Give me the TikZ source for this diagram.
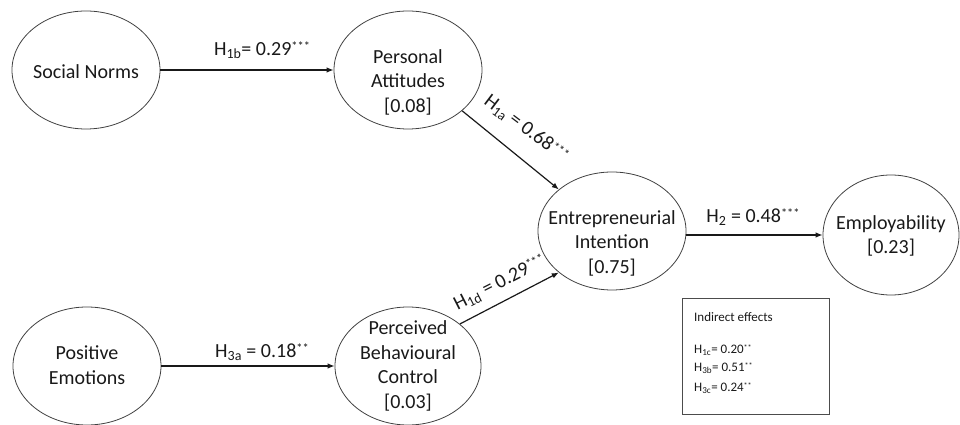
\documentclass[tikz,border=0pt]{standalone}
\usepackage{fontspec}
\setmainfont{Carlito}
\usetikzlibrary{shapes.geometric,arrows.meta}
\newcommand{\sigstar}[1]{\raisebox{0.24em}{\scalebox{0.62}{#1}}}
\begin{document}
\begin{tikzpicture}[x=1pt,y=1pt,
  lat/.style={ellipse, draw=black!75, line width=0.8pt, minimum width=148pt, minimum height=118pt, inner sep=0pt},
  lattext/.style={align=center, inner sep=0pt, font=\fontsize{20}{24.5}\selectfont, text=black!90},
  conn/.style={line width=1.2pt, draw=black!90, -{Latex[length=7pt,width=5.5pt]}},
  coef/.style={inner sep=0pt, font=\fontsize{20}{24}\selectfont, text=black!90},
  boxtext/.style={inner sep=0pt, anchor=west, font=\fontsize{13}{15}\selectfont, text=black!90}
  ]
\useasboundingbox (0,0) rectangle (960,425);
% latent variables
\node[lat] (sn) at (86,355) {};
\node[lattext] (snt) at (86,353) {Social Norms};
\node[lat] (pa) at (408,355) {};
\node[lattext] (pat) at (408,343) {Personal\\Attitudes\\{[0.08]}};
\node[lat] (ei) at (612,194) {};
\node[lattext] (eit) at (612,182) {Entrepreneurial\\Intention\\{[0.75]}};
\node[lat, minimum width=136pt, minimum height=120pt] (emp) at (891,190) {};
\node[lattext] (empt) at (891,189) {Employability\\{[0.23]}};
\node[lat] (pe) at (87,59) {};
\node[lattext] (pet) at (87,60) {Positive\\Emotions};
\node[lat, minimum width=146pt] (pbc) at (408,59) {};
\node[lattext] (pbct) at (408,59) {Perceived\\Behavioural\\Control\\{[0.03]}};
% connectors
\draw[conn] (sn.east) -- (pa.west);
\draw[conn] (pe.east) -- (pbc.west);
\draw[conn] (pa.-37) -- (ei.142);
\draw[conn] (pbc.39) -- (ei.218);
\draw[conn] (ei.east |- emp.west) -- (emp.west);
% coefficients
\node[coef] (l1b) at (262,375) {H\textsubscript{1b}= 0.29\sigstar{***}};
\node[coef, rotate=-37] (l1a) at (526,296) {H\textsubscript{1a} = 0.68\sigstar{***}};
\node[coef, rotate=27] (l1d) at (500,142) {H\textsubscript{1d} = 0.29\sigstar{***}};
\node[coef] (l2) at (753,208) {H\textsubscript{2} = 0.48\sigstar{***}};
\node[coef] (l3a) at (262,73) {H\textsubscript{3a} = 0.18\sigstar{**}};
% indirect effects box
\node[draw=black!70, line width=0.8pt, minimum width=147pt, minimum height=116pt, inner sep=0pt] (box) at (755.5,69) {};
\node[boxtext] (ie) at (694,108) {Indirect effects};
\node[boxtext] (h1c) at (694,75) {H\textsubscript{1c}= 0.20\sigstar{**}};
\node[boxtext] (h3b) at (694,57) {H\textsubscript{3b}= 0.51\sigstar{**}};
\node[boxtext] (h3c) at (694,37) {H\textsubscript{3c}= 0.24\sigstar{**}};
\end{tikzpicture}
\end{document}
